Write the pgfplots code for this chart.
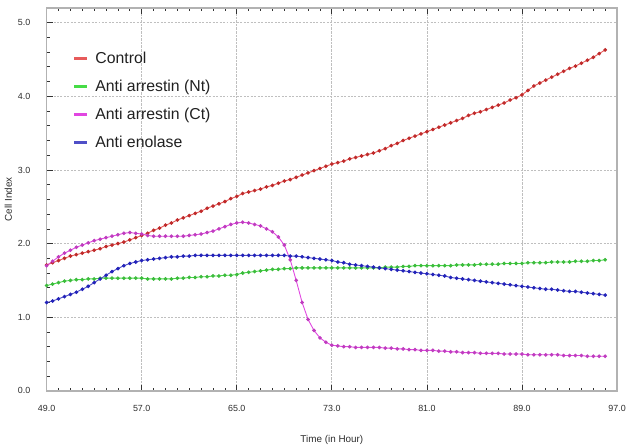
\documentclass[border=0pt]{standalone}
\usepackage{pgfplots}
\usepackage{pgfplotstable}
\pgfplotsset{compat=1.18}
\usepackage{fontspec}
\setmainfont{Liberation Sans}

\definecolor{cctrl}{RGB}{225,50,50}
\definecolor{cnt}{RGB}{70,220,70}
\definecolor{cct}{RGB}{225,70,225}
\definecolor{cenol}{RGB}{35,35,185}

% time (h), Control, Anti arrestin (Nt), Anti arrestin (Ct), Anti enolase
\pgfplotstableread{
t r g p b
49.0 1.71 1.43 1.70 1.20
49.5 1.74 1.45 1.76 1.22
50.0 1.77 1.47 1.82 1.25
50.5 1.80 1.49 1.87 1.28
51.0 1.83 1.50 1.91 1.31
51.5 1.85 1.51 1.95 1.34
52.0 1.87 1.51 1.98 1.38
52.5 1.89 1.52 2.01 1.42
53.0 1.91 1.52 2.04 1.47
53.5 1.93 1.53 2.06 1.52
54.0 1.96 1.53 2.08 1.57
54.5 1.98 1.53 2.10 1.62
55.0 2.00 1.53 2.12 1.66
55.5 2.02 1.53 2.14 1.70
56.0 2.05 1.53 2.15 1.73
56.5 2.08 1.53 2.14 1.75
57.0 2.11 1.53 2.13 1.77
57.5 2.14 1.52 2.11 1.78
58.0 2.18 1.52 2.10 1.79
58.5 2.21 1.52 2.10 1.80
59.0 2.25 1.52 2.10 1.81
59.5 2.28 1.52 2.10 1.82
60.0 2.32 1.53 2.10 1.82
60.5 2.35 1.53 2.10 1.83
61.0 2.38 1.54 2.11 1.83
61.5 2.41 1.54 2.12 1.84
62.0 2.44 1.55 2.13 1.84
62.5 2.48 1.55 2.15 1.84
63.0 2.51 1.56 2.17 1.84
63.5 2.54 1.56 2.20 1.84
64.0 2.57 1.57 2.23 1.84
64.5 2.61 1.57 2.26 1.84
65.0 2.64 1.58 2.28 1.84
65.5 2.68 1.60 2.29 1.84
66.0 2.70 1.61 2.28 1.84
66.5 2.72 1.62 2.26 1.84
67.0 2.74 1.63 2.24 1.84
67.5 2.77 1.64 2.20 1.84
68.0 2.79 1.65 2.16 1.84
68.5 2.82 1.65 2.09 1.84
69.0 2.85 1.66 1.98 1.84
69.5 2.87 1.66 1.78 1.83
70.0 2.90 1.67 1.50 1.83
70.5 2.93 1.67 1.20 1.82
71.0 2.96 1.67 0.97 1.81
71.5 2.99 1.67 0.82 1.80
72.0 3.02 1.67 0.72 1.79
72.5 3.05 1.67 0.66 1.78
73.0 3.08 1.67 0.62 1.77
73.5 3.10 1.67 0.61 1.75
74.0 3.12 1.67 0.60 1.74
74.5 3.15 1.67 0.60 1.72
75.0 3.17 1.67 0.59 1.71
75.5 3.19 1.67 0.59 1.70
76.0 3.21 1.67 0.59 1.69
76.5 3.23 1.67 0.59 1.68
77.0 3.26 1.67 0.59 1.67
77.5 3.29 1.68 0.58 1.66
78.0 3.33 1.68 0.58 1.65
78.5 3.36 1.68 0.57 1.64
79.0 3.40 1.69 0.57 1.63
79.5 3.43 1.69 0.56 1.62
80.0 3.46 1.70 0.56 1.61
80.5 3.49 1.70 0.55 1.60
81.0 3.52 1.70 0.55 1.59
81.5 3.55 1.70 0.55 1.58
82.0 3.58 1.70 0.54 1.57
82.5 3.61 1.70 0.54 1.56
83.0 3.64 1.70 0.53 1.54
83.5 3.67 1.71 0.53 1.53
84.0 3.70 1.71 0.52 1.52
84.5 3.74 1.71 0.52 1.51
85.0 3.77 1.71 0.52 1.50
85.5 3.79 1.72 0.51 1.49
86.0 3.82 1.72 0.51 1.48
86.5 3.85 1.72 0.51 1.47
87.0 3.88 1.72 0.51 1.46
87.5 3.91 1.73 0.50 1.45
88.0 3.95 1.73 0.50 1.44
88.5 3.98 1.73 0.50 1.43
89.0 4.02 1.73 0.50 1.42
89.5 4.08 1.74 0.49 1.41
90.0 4.14 1.74 0.49 1.40
90.5 4.18 1.74 0.49 1.39
91.0 4.22 1.74 0.49 1.38
91.5 4.26 1.75 0.49 1.38
92.0 4.30 1.75 0.49 1.37
92.5 4.34 1.75 0.48 1.36
93.0 4.38 1.75 0.48 1.35
93.5 4.41 1.76 0.48 1.35
94.0 4.45 1.76 0.48 1.34
94.5 4.49 1.76 0.47 1.33
95.0 4.53 1.77 0.47 1.32
95.5 4.58 1.77 0.47 1.31
96.0 4.63 1.78 0.47 1.30
}\celldata

\begin{document}
\begin{tikzpicture}
\begin{axis}[
    scale only axis,
    width=575bp, height=386bp,
    xmin=49, xmax=97,
    ymin=0, ymax=5.2,
    xtick={49,57,65,73,81,89,97},
    ytick={0,1,2,3,4,5},
    minor x tick num=7,
    minor y tick num=4,
    tick align=inside,
    major tick length=6bp,
    minor tick length=3bp,
    xtick pos=both, xticklabel pos=lower,
    ytick pos=left,
    tick style={gray!40!black, line width=0.7pt},
    axis line style={gray!60, line width=1.5pt},
    grid=major,
    major x grid style={gray!50, densely dotted, line width=0.7pt},
    major y grid style={gray!50, dash pattern=on 2pt off 1.5pt, line width=0.7pt},
    /pgf/number format/assume math mode=true,
    /pgf/number format/.cd, fixed, fixed zerofill, precision=1, /pgfplots/.cd,
    tick label style={font=\fontsize{9}{10}\selectfont, text=gray!35!black},
    xticklabel style={yshift=-11bp},
    yticklabel style={xshift=-13bp},
    xlabel={Time (in Hour)},
    ylabel={Cell Index},
    label style={font=\fontsize{10}{12}\selectfont, text=gray!35!black},
    xlabel style={yshift=-17bp},
    ylabel style={yshift=-1bp},
    legend cell align=left,
    legend style={draw=none, fill=none, at={(rel axis cs:0.04,0.895)}, anchor=north west,
        font=\fontsize{16}{18}\selectfont, row sep=11bp, text=gray!25!black},
    legend image code/.code={\draw[line width=3pt] (0bp,0bp) -- (13bp,0bp);
        \path (19bp,0bp);},
    every axis plot/.append style={line width=0.9pt, mark=*, mark size=1.4pt},
]
\addplot[cctrl!80, mark options={fill=cctrl!85!black, draw=cctrl!85!black}] table[x=t, y=r] {\celldata};
\addplot[cnt, mark options={fill=cnt!85!black, draw=cnt!85!black}] table[x=t, y=g] {\celldata};
\addplot[cct, mark options={fill=cct!85!black, draw=cct!85!black}] table[x=t, y=p] {\celldata};
\addplot[cenol!80, mark options={fill=cenol, draw=cenol}] table[x=t, y=b] {\celldata};
\legend{Control, Anti arrestin (Nt), Anti arrestin (Ct), Anti enolase}
\end{axis}
\path (current axis.south west) ++(-47bp,-54bp);
\path (current axis.north east) ++(7bp,8bp);
\end{tikzpicture}
\end{document}
